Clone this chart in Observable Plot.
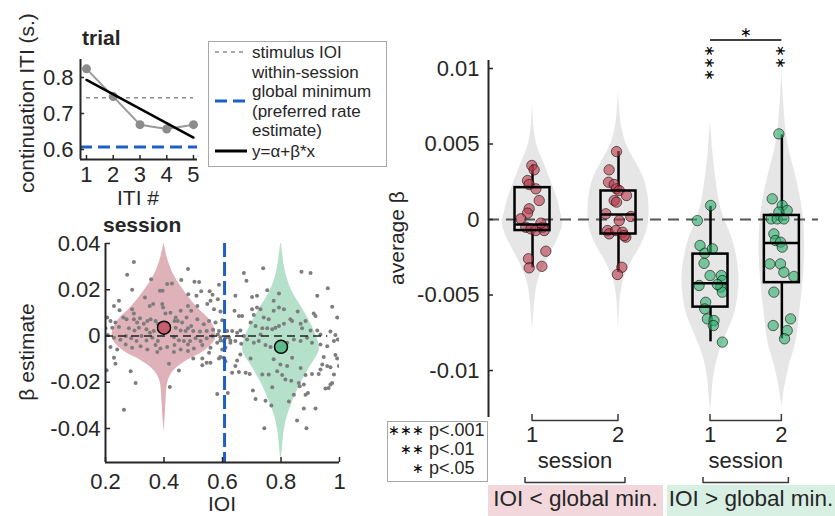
<!DOCTYPE html>
<html><head><meta charset="utf-8">
<script src="https://cdn.jsdelivr.net/npm/d3@7"></script>
<script src="https://cdn.jsdelivr.net/npm/@observablehq/plot@0.6"></script>
<style>
body{margin:0;background:#fff;}
#fig{position:relative;width:835px;height:516px;overflow:hidden;font-family:"Liberation Sans",Arial,Helvetica,sans-serif;}
#fig > svg{position:absolute;left:0;top:0;}
</style></head><body><div id="fig"></div>
<script>
// ---------------- DATA ----------------
// trial panel
const itiNumber = [1, 2, 3, 4, 5];
const trialITI = [0.824, 0.747, 0.669, 0.657, 0.669];
const stimulusIOI = 0.744;
const globalMin = 0.607;

// session panel: beta estimate vs IOI (gray dots)
const sessionPoints = [
[0.297,0.032],[0.274,0.0265],[0.356,0.0245],[0.291,0.020],[0.482,0.029],[0.459,0.0242],[0.504,0.0235],[0.520,0.0233],[0.588,0.0222],[0.411,0.0225],[0.427,0.0227],[0.386,0.0196],[0.395,0.0196],[0.335,0.0167],[0.483,0.0181],[0.511,0.0174],[0.527,0.0193],[0.556,0.0193],[0.566,0.0178],[0.584,0.0159],[0.246,0.0152],[0.229,0.013],[0.248,0.0111],[0.291,0.0116],[0.297,0.0097],[0.351,0.013],[0.363,0.0138],[0.394,0.0138],[0.397,0.0123],[0.405,0.0097],[0.422,0.0101],[0.440,0.008],[0.447,0.0065],[0.457,0.0109],[0.482,0.013],[0.493,0.0109],[0.514,0.013],[0.548,0.0138],[0.559,0.0152],[0.571,0.0116],[0.593,0.0106],
[0.206,0.008],[0.217,0.0065],[0.234,0.0058],[0.261,0.008],[0.272,0.0072],[0.297,0.0072],[0.308,0.0058],[0.318,0.0077],[0.331,0.0053],[0.343,0.0065],[0.354,0.0072],[0.371,0.0065],[0.379,0.0053],[0.436,0.0065],[0.462,0.0058],[0.477,0.008],[0.482,0.0033],[0.493,0.0043],[0.514,0.0072],[0.536,0.0051],[0.554,0.0065],[0.576,0.0058],[0.599,0.0068],[0.200,0.0033],[0.223,0.0036],[0.246,0.0039],[0.280,0.0033],[0.299,0.0024],[0.314,0.0036],[0.340,0.0029],[0.352,0.0014],[0.365,0.0022],[0.440,0.0036],[0.457,0.0024],[0.474,0.0022],[0.500,0.0022],[0.523,0.0019],[0.546,0.0022],[0.568,0.0027],[0.584,0.0007],
[0.208,0.0004],[0.229,-0.0008],[0.251,-0.0016],[0.270,0.0],[0.288,-0.001],[0.306,-0.0022],[0.323,0.0],[0.340,-0.0019],[0.360,-0.0008],[0.379,-0.0022],[0.434,-0.0005],[0.451,-0.0018],[0.468,-0.0022],[0.489,-0.0022],[0.508,-0.001],[0.525,-0.0022],[0.546,-0.001],[0.565,0.0],[0.593,-0.0019],[0.217,-0.0048],[0.240,-0.0058],[0.269,-0.0037],[0.291,-0.0051],[0.320,-0.0044],[0.343,-0.0058],[0.371,-0.0039],[0.388,-0.0054],[0.411,-0.0048],[0.436,-0.0039],[0.457,-0.0058],[0.482,-0.0037],[0.502,-0.0054],[0.531,-0.0039],[0.559,-0.0051],[0.582,-0.0029],[0.599,-0.0058],
[0.229,-0.0094],[0.234,-0.012],[0.204,-0.0148],[0.286,-0.0152],[0.303,-0.0203],[0.263,-0.0319],[0.417,-0.012],[0.451,-0.0149],[0.420,-0.022],[0.500,-0.0097],[0.531,-0.0097],[0.531,-0.0127],[0.546,-0.0116],[0.559,-0.0116],[0.588,-0.0097],[0.593,-0.0091],[0.582,-0.0251],[0.554,-0.0072],[0.377,-0.0069],[0.434,-0.0069],[0.482,-0.0065],
[0.588,0.0022],[0.622,-0.0007],[0.627,-0.0029],[0.610,-0.0051],
[0.673,0.0272],[0.682,0.0239],[0.739,0.0293],[0.870,0.0278],[0.901,0.0272],[0.960,0.0206],[0.924,0.0174],[0.753,0.0198],[0.793,0.0184],[0.775,0.0152],[0.718,0.0174],[0.701,0.0169],[0.644,0.0174],[0.641,0.0109],[0.656,0.0087],[0.667,0.0087],[0.701,0.0116],[0.707,0.0091],[0.718,0.0123],[0.730,0.0116],[0.741,0.0080],[0.758,0.0072],[0.775,0.0109],[0.793,0.0123],[0.810,0.0116],[0.832,0.0072],[0.838,0.0065],[0.857,0.0106],[0.884,0.0065],[0.912,0.0097],[0.918,0.0087],[0.975,0.0126],[0.992,0.0080],[0.696,0.0058],[0.713,0.0043],[0.736,0.0033],[0.753,0.0033],[0.770,0.0029],[0.781,0.0036],[0.793,0.0043],[0.810,0.0053],[0.867,0.0053],[0.872,0.0033],[0.901,0.0024],[0.924,0.0024],[0.935,0.0007],[0.969,0.0019],[0.986,0.0004],[0.616,0.0022],[0.633,0.0022],[0.650,0.0014],[0.661,0.0024],[0.610,-0.0008],[0.627,-0.0019],[0.644,-0.0022],[0.664,-0.0034],[0.684,-0.0015],[0.707,-0.0029],[0.724,-0.0022],[0.747,-0.0039],[0.764,-0.0048],[0.821,-0.0029],[0.844,-0.0015],[0.867,-0.0022],[0.889,-0.0008],[0.906,-0.0029],[0.935,-0.0037],[0.958,-0.0044],[0.981,-0.0022],[0.994,-0.0015],[0.593,-0.0005],[0.604,-0.0022],[0.730,0.0007],[0.673,0.0],
[0.604,-0.0094],[0.610,-0.0109],[0.650,-0.0106],[0.644,-0.0130],[0.661,-0.0080],[0.696,-0.0097],[0.633,-0.0159],[0.656,-0.0156],[0.679,-0.0159],[0.693,-0.0164],[0.736,-0.0167],[0.758,-0.0167],[0.787,-0.0152],[0.804,-0.0169],[0.815,-0.0188],[0.835,-0.0193],[0.861,-0.0203],[0.864,-0.0217],[0.878,-0.0210],[0.884,-0.0169],[0.906,-0.0164],[0.929,-0.0164],[0.935,-0.0145],[0.941,-0.0123],[0.958,-0.0130],[0.969,-0.0135],[0.981,-0.0167],[0.986,-0.0082],[0.992,-0.0097],[0.946,-0.0091],[0.998,-0.0130],[0.969,-0.0210],[0.963,-0.0225],[0.952,-0.0227],[0.975,-0.0203],[0.704,-0.0236],[0.713,-0.0272],[0.747,-0.0280],[0.770,-0.0222],[0.767,-0.0300],[0.827,-0.0283],[0.844,-0.0254],[0.884,-0.0254],[0.892,-0.0246],[0.878,-0.0314],[0.918,-0.0314],[0.855,-0.0365],[0.743,-0.0399],[0.887,-0.0399],[0.618,-0.0246],[0.798,-0.0123],[0.821,-0.0130],[0.838,-0.0094],[0.775,-0.0101],[0.867,-0.0138]
];
// violin profiles [beta, half-width in IOI units]
const violinCenterIOI = [0.4, 0.8];
const violinBelowMin = [[0.0405,0],[0.034,0.011],[0.0268,0.032],[0.0196,0.068],[0.0123,0.114],[0.0065,0.159],[0.002,0.176],[-0.0015,0.175],[-0.0065,0.138],[-0.0109,0.075],[-0.0152,0.032],[-0.0196,0.014],[-0.0283,0.007],[-0.035,0.004],[-0.0413,0]];
const violinAboveMin = [[0.0413,0],[0.034,0.007],[0.0268,0.017],[0.0196,0.037],[0.0123,0.071],[0.0051,0.103],[-0.0022,0.127],[-0.0065,0.13],[-0.0138,0.097],[-0.021,0.065],[-0.0283,0.04],[-0.0355,0.02],[-0.0428,0.009],[-0.05,0.004],[-0.053,0]];
const meanBeta = [0.0036, -0.0047];

// average beta panel
const groupPos = [1, 2, 3.07, 3.9];
const groupKind = ["below", "below", "above", "above"];
const sessionLabel = ["1", "2", "1", "2"];
const dotsS1Below = [[-0.008,0.00358],[0.019,0.00329],[-0.058,0.00258],[-0.039,0.00232],[0.039,0.00203],[0.078,0.00126],[-0.039,0.00071],[-0.058,0.00042],[-0.136,0.00005],[-0.078,-0.00051],[-0.019,-0.00062],[0.039,-0.00073],[0.116,-0.00051],[0.136,-0.00073],[0.097,-0.00024],[0.155,-0.0021],[-0.047,-0.0026],[-0.039,-0.0032],[0.109,-0.0031]];
const dotsS2Below = [[-0.023,0.0045],[-0.109,0.00329],[-0.116,0.00247],[-0.05,0.00232],[-0.023,0.00203],[0.008,0.00192],[0.093,0.00159],[-0.05,0.00126],[-0.023,0.00115],[-0.147,0.00038],[0.143,0.0002],[0.008,-0.00007],[-0.128,-0.00073],[-0.109,-0.00095],[-0.031,-0.00073],[0.047,-0.00084],[0.085,-0.00117],[0.066,-0.00106],[0.039,-0.00316],[-0.012,-0.00364]];
const dotsS1Above = [[0.002,0.00093],[-0.153,-0.00007],[-0.122,-0.00172],[-0.067,-0.00223],[0.022,-0.00194],[-0.075,-0.0029],[-0.005,-0.00371],[0.126,-0.00371],[0.138,-0.00404],[-0.133,-0.00437],[0.119,-0.00448],[0.138,-0.00481],[0.08,-0.0043],[-0.056,-0.00548],[-0.067,-0.00592],[-0.036,-0.00658],[0.041,-0.00669],[0.033,-0.00702],[0.138,-0.00812]];
const dotsS2Above = [[-0.035,0.00567],[-0.112,0.00137],[0.004,0.00093],[0.062,0.0006],[-0.035,0.00049],[-0.124,0.00004],[-0.054,0.00004],[0.023,0.00004],[-0.093,-0.00095],[-0.074,-0.00139],[-0.016,-0.0015],[0.004,-0.00183],[-0.14,-0.00294],[-0.016,-0.00294],[0.023,-0.00349],[0.14,-0.00377],[-0.093,-0.00481],[0.101,-0.00658],[-0.101,-0.00702],[0.062,-0.00735],[0.031,-0.0079]];
const boxQ1 = [-0.00073, -0.00096, -0.0058, -0.00418];
const boxMedian = [-0.00033, 0.00033, -0.00422, -0.00156];
const boxQ3 = [0.00211, 0.00189, -0.00229, 0.00027];
const whiskerLo = [-0.0032, -0.0035, -0.0081, -0.0079];
const whiskerHi = [0.0036, 0.0045, 0.00087, 0.0056];
const groupViolins = [
 [[0.0078,0],[0.0068,0.008],[0.0059,0.02],[0.0048,0.058],[0.0037,0.136],[0.0026,0.21],[0.0015,0.28],[0.0004,0.33],[-0.0003,0.35],[-0.0012,0.30],[-0.0023,0.2],[-0.0034,0.108],[-0.0043,0.055],[-0.0055,0.025],[-0.0074,0]],
 [[0.0085,0],[0.0072,0.015],[0.0062,0.035],[0.005,0.09],[0.0039,0.19],[0.0028,0.29],[0.0017,0.34],[0.0006,0.355],[-0.0005,0.34],[-0.0016,0.27],[-0.0027,0.16],[-0.0038,0.07],[-0.005,0.025],[-0.0075,0]],
 [[0.0066,0],[0.0046,0.025],[0.0028,0.06],[0.001,0.11],[-0.0001,0.17],[-0.0016,0.27],[-0.0038,0.33],[-0.006,0.29],[-0.0078,0.17],[-0.0092,0.08],[-0.0105,0.035],[-0.0118,0.015],[-0.0128,0]],
 [[0.0098,0],[0.0085,0.012],[0.0072,0.027],[0.005,0.07],[0.0028,0.165],[0.0006,0.24],[-0.0016,0.265],[-0.0038,0.25],[-0.006,0.21],[-0.0082,0.16],[-0.0098,0.08],[-0.0112,0.03],[-0.0124,0]]
];
const significanceStars = ["∗∗∗", "∗∗"]; // above session 1 / session 2 of IOI > global min.
const pairStar = "∗";
const legendMinLines = ["within-session", "global minimum", "(preferred rate", "estimate)"];

// ---------------- STYLE ----------------
const FONT = '"Liberation Sans", Arial, Helvetica, sans-serif';
const AX = "#262626";
const BLUE = "#1f5fc6";
const PINK_V = "#dfb2ba", GREEN_V = "#b5e0ca";
const PINK_D = "#b83a4c", GREEN_D = "#2fae6c";
const style = {fontFamily: FONT, fontSize: "22px", color: AX, background: "transparent", overflow: "visible"};
const fig = document.getElementById("fig");

// ---------------- PANEL A (trial) ----------------
const mx = d3.mean(itiNumber), my = d3.mean(trialITI);
const slope = d3.sum(itiNumber, (x, i) => (x - mx) * (trialITI[i] - my)) / d3.sum(itiNumber, x => (x - mx) ** 2);
const intercept = my - slope * mx;
const trialData = itiNumber.map((x, i) => ({x, y: trialITI[i]}));
const fitData = d3.extent(itiNumber).map(x => ({x, y: intercept + slope * x}));
const aDom = {x: [0.776, 5.15], y: [0.5722, 0.85]};
const pA = Plot.plot({
  width: 835, height: 516, marginLeft: 80, marginRight: 638, marginTop: 59, marginBottom: 357,
  x: {domain: aDom.x}, y: {domain: aDom.y}, style,
  marks: [
    Plot.ruleY([stimulusIOI], {x1: itiNumber[0], x2: itiNumber[itiNumber.length - 1], stroke: "#8c8c8c", strokeWidth: 1.5, strokeDasharray: "4,4"}),
    Plot.ruleY([globalMin], {stroke: BLUE, strokeWidth: 3, strokeDasharray: "12,6"}),
    Plot.line(trialData, {x: "x", y: "y", stroke: "#9a9a9a", strokeWidth: 2}),
    Plot.dot(trialData, {x: "x", y: "y", r: 4.5, fill: "#8c8c8c"}),
    Plot.line(fitData, {x: "x", y: "y", stroke: "#000", strokeWidth: 2.5}),
    Plot.ruleX([aDom.x[0]], {stroke: AX, strokeWidth: 2}),
    Plot.ruleY([aDom.y[0]], {stroke: AX, strokeWidth: 2}),
    Plot.tickY([0.6, 0.7, 0.8], {stroke: AX, strokeWidth: 1.5, insetRight: 117 - 4}),
    Plot.tickX(itiNumber, {stroke: AX, strokeWidth: 1.5, insetTop: 100 - 4}),
    Plot.axisY([0.6, 0.7, 0.8], {tickSize: 0, tickPadding: 7, tickFormat: d => String(d), label: null}),
    Plot.axisX(itiNumber, {tickSize: 0, tickPadding: 7, tickFormat: d => String(d), label: null})
  ]
});
fig.appendChild(pA);

// ---------------- PANEL B (session) ----------------
const bDom = {x: [0.2, 1.0], y: [-0.0547, 0.04]};
const pts = sessionPoints.map(([x, y]) => ({x, y}));
const means = violinCenterIOI.map((x, i) => ({x, y: meanBeta[i], c: i === 0 ? "#c65f6d" : "#5cba8b"}));
const pB = Plot.plot({
  width: 835, height: 516, marginLeft: 105, marginRight: 496, marginTop: 243, marginBottom: 54,
  x: {domain: bDom.x}, y: {domain: bDom.y}, style,
  marks: [
    Plot.areaX(violinBelowMin, {y: d => d[0], x1: d => violinCenterIOI[0] - d[1], x2: d => violinCenterIOI[0] + d[1], fill: PINK_V, curve: "catmull-rom", clip: true}),
    Plot.areaX(violinAboveMin, {y: d => d[0], x1: d => violinCenterIOI[1] - d[1], x2: d => violinCenterIOI[1] + d[1], fill: GREEN_V, curve: "catmull-rom", clip: true}),
    Plot.dot(pts, {x: "x", y: "y", r: 2, fill: "#7d7d7d", clip: true}),
    Plot.ruleY([0], {x1: bDom.x[0], x2: 0.96, stroke: "#222", strokeWidth: 1.5, strokeDasharray: "8,5"}),
    Plot.ruleX([globalMin], {stroke: BLUE, strokeWidth: 3, strokeDasharray: "14,5"}),
    Plot.dot(means, {x: "x", y: "y", r: 6.5, fill: "c", stroke: "#000", strokeWidth: 1.5}),
    Plot.ruleX([bDom.x[0]], {stroke: AX, strokeWidth: 2}),
    Plot.ruleY([bDom.y[0]], {stroke: AX, strokeWidth: 2}),
    Plot.tickY([-0.04, -0.02, 0, 0.02, 0.04], {stroke: AX, strokeWidth: 1.5, insetRight: 234 - 5}),
    Plot.tickX([0.2, 0.4, 0.6, 0.8, 1], {stroke: AX, strokeWidth: 1.5, insetTop: 219 - 5}),
    Plot.axisY([-0.04, -0.02, 0, 0.02, 0.04], {tickSize: 0, tickPadding: 5, tickFormat: d => String(d), label: null}),
    Plot.axisX([0.2, 0.4, 0.6, 0.8, 1], {tickSize: 0, tickPadding: 11, tickFormat: d => String(d), label: null})
  ]
});
fig.appendChild(pB);

// ---------------- PANEL C (average beta) ----------------
const cDom = {x: [0.488, 4.326], y: [-0.01311, 0.01053]};
const boxHalf = 0.2035;
const boxes = groupPos.map((pos, i) => ({pos, q1: boxQ1[i], med: boxMedian[i], q3: boxQ3[i], lo: whiskerLo[i], hi: whiskerHi[i]}));
const dotSets = [dotsS1Below, dotsS2Below, dotsS1Above, dotsS2Above];
const subj = dotSets.flatMap((set, g) => set.map(([dx, b]) => ({x: groupPos[g] + dx, y: b, kind: groupKind[g]})));
const pC = Plot.plot({
  width: 835, height: 516, marginLeft: 488, marginRight: 17, marginTop: 60, marginBottom: 99,
  x: {domain: cDom.x}, y: {domain: cDom.y}, style,
  marks: [
    ...groupViolins.map((v, g) => Plot.areaX(v, {y: d => d[0], x1: d => groupPos[g] - d[1], x2: d => groupPos[g] + d[1], fill: "#e6e6e6", curve: "catmull-rom"})),
    Plot.ruleY([0], {stroke: "#555", strokeWidth: 2, strokeDasharray: "11,7"}),
    Plot.ruleX(boxes, {x: "pos", y1: "lo", y2: "q1", stroke: "#000", strokeWidth: 2.5}),
    Plot.ruleX(boxes, {x: "pos", y1: "q3", y2: "hi", stroke: "#000", strokeWidth: 2.5}),
    Plot.dot(subj, {x: "x", y: "y", r: 5.2, fill: d => d.kind === "below" ? PINK_D : GREEN_D, fillOpacity: 0.62, stroke: "#000", strokeOpacity: 0.55, strokeWidth: 1}),
    Plot.rect(boxes, {x1: d => d.pos - boxHalf, x2: d => d.pos + boxHalf, y1: "q1", y2: "q3", fill: "none", stroke: "#000", strokeWidth: 2.5}),
    Plot.ruleY(boxes, {y: "med", x1: d => d.pos - boxHalf, x2: d => d.pos + boxHalf, stroke: "#000", strokeWidth: 2.5}),
    Plot.ruleX([cDom.x[0]], {stroke: AX, strokeWidth: 2}),
    Plot.tickY([-0.01, -0.005, 0, 0.005, 0.01], {stroke: AX, strokeWidth: 1.5, insetRight: 330 - 5}),
    Plot.axisY([-0.01, -0.005, 0, 0.005, 0.01], {tickSize: 0, tickPadding: 9, tickFormat: d => String(d), label: null}),
    Plot.axisX([], {label: null})
  ]
});
fig.appendChild(pC);

// ---------------- ANNOTATIONS ----------------
const X = v => pC.scale("x").apply(v);
const ov = d3.select(fig).append("svg").attr("width", 835).attr("height", 516)
  .attr("font-family", FONT).attr("fill", AX);
function txt(x, y, s, {size = 22, anchor = "start", weight = null, rotate = null, baseline = null, fill = AX} = {}) {
  const t = ov.append("text").attr("font-size", size).attr("text-anchor", anchor).attr("fill", fill).text(s);
  if (weight) t.attr("font-weight", weight);
  if (baseline) t.attr("dominant-baseline", baseline);
  if (rotate != null) t.attr("transform", `translate(${x},${y}) rotate(${rotate})`);
  else t.attr("x", x).attr("y", y);
  return t;
}
function ln(x1, y1, x2, y2, {stroke = AX, width = 1.5, dash = null} = {}) {
  const l = ov.append("line").attr("x1", x1).attr("y1", y1).attr("x2", x2).attr("y2", y2)
    .attr("stroke", stroke).attr("stroke-width", width);
  if (dash) l.attr("stroke-dasharray", dash);
  return l;
}
// titles and axis labels
txt(82, 45, "trial", {size: 21, weight: "bold"});
txt(103, 232, "session", {size: 21, weight: "bold"});
txt(34, 103, "continuation ITI (s.)", {size: 21, anchor: "middle", rotate: -90});
txt(138, 205, "ITI #", {size: 21, anchor: "middle"});
txt(34, 352, "β estimate", {size: 21, anchor: "middle", rotate: -90});
txt(222, 511, "IOI", {size: 21, anchor: "middle"});
txt(404, 238, "average β", {size: 21, anchor: "middle", rotate: -90});

// legend (trial panel)
ov.append("rect").attr("x", 208.5).attr("y", 41.5).attr("width", 178).attr("height", 125)
  .attr("fill", "#fff").attr("stroke", "#a8a8a8").attr("stroke-width", 1);
ln(215, 52, 247, 52, {stroke: "#8c8c8c", width: 1.5, dash: "4,4"});
txt(252, 58, "stimulus IOI", {size: 17});
ln(215, 101, 247, 101, {stroke: BLUE, width: 3, dash: "12,6"});
legendMinLines.forEach((s, i) => txt(252, 77.6 + i * 19.6, s, {size: 17}));
ln(215, 151, 247, 151, {stroke: "#000", width: 3});
txt(252, 157, "y=α+β*x", {size: 17});

// significance stars: stacked vertically (one rotated text per group)
significanceStars.forEach((s, g) => {
  const xg = X(groupPos[2 + g]);
  const cy = 51 + (s.length - 1) * 11.5 / 2;
  txt(xg, cy, s, {size: 14, anchor: "middle", baseline: "central", rotate: 90, fill: "#000"});
});
ln(X(groupPos[2]), 40, X(groupPos[3]), 40, {stroke: "#000", width: 1.5});
txt((X(groupPos[2]) + X(groupPos[3])) / 2, 32, pairStar, {size: 14, anchor: "middle", baseline: "central", fill: "#000"});

// p-value legend
ov.append("rect").attr("x", 387.5).attr("y", 421.5).attr("width", 100).attr("height", 60)
  .attr("fill", "#fff").attr("stroke", "#a8a8a8").attr("stroke-width", 1);
[["∗∗∗", "p<.001"], ["∗∗", "p<.01"], ["∗", "p<.05"]].forEach(([s, p], i) => {
  txt(424, 430 + i * 19, s, {size: 14, anchor: "end", baseline: "central", fill: "#000"});
  txt(429, 436 + i * 19, p, {size: 18});
});

// session axis brackets & group labels
const groupNames = ["IOI < global min.", "IOI > global min."];
const boxFill = ["#f2d8dc", "#d8efe3"];
const boxX = [[488, 663], [667, 835]];
for (let g = 0; g < 2; g++) {
  const a = X(groupPos[2 * g]), b = X(groupPos[2 * g + 1]);
  ln(a, 420.5, b, 420.5, {stroke: "#3a3a3a", width: 1.5});
  ln(a, 414, a, 421, {stroke: "#3a3a3a", width: 1.5});
  ln(b, 414, b, 421, {stroke: "#3a3a3a", width: 1.5});
  txt(a, 442, sessionLabel[2 * g], {anchor: "middle"});
  txt(b, 442, sessionLabel[2 * g + 1], {anchor: "middle"});
  txt((a + b) / 2, 468, "session", {anchor: "middle"});
  const la = a - 7, lb = b + 7;
  ln(la, 482.5, lb, 482.5, {stroke: "#3a3a3a", width: 1.5});
  ln(la, 477, la, 483, {stroke: "#3a3a3a", width: 1.5});
  ln(lb, 477, lb, 483, {stroke: "#3a3a3a", width: 1.5});
  ov.append("rect").attr("x", boxX[g][0]).attr("y", 485).attr("width", boxX[g][1] - boxX[g][0]).attr("height", 31).attr("fill", boxFill[g]);
  txt((boxX[g][0] + boxX[g][1]) / 2, 506, groupNames[g], {size: 22.5, anchor: "middle"});
}
</script></body></html>
